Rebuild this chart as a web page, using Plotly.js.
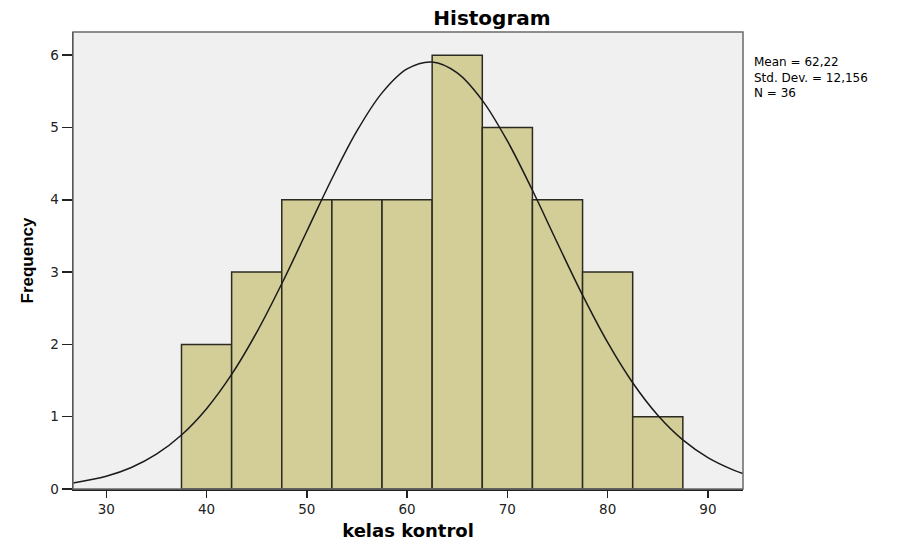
<!DOCTYPE html>
<html>
<head>
<meta charset="utf-8">
<script src="https://cdn.plot.ly/plotly-3.0.1.min.js"></script>
<style>html,body{margin:0;padding:0;background:#fff;}#chart{width:901px;height:541px;}</style>
</head>
<body>
<div id="chart"></div>
<script>
// Histogram bins (centres) and frequencies
const binCenters = [40, 45, 50, 55, 60, 65, 70, 75, 80, 85];
const frequencies = [2, 3, 4, 4, 4, 6, 5, 4, 3, 1];
// Normal curve
const curveX = [26.7, 30, 32.5, 35, 37.5, 40, 42.5, 45, 47.5, 50, 52.5, 55, 57.5, 60, 62.5, 65, 67.5, 70, 72.5, 75, 77.5, 80, 82.5, 85, 87.5, 90, 92.5, 93.5];
const curveY = [0.083, 0.176, 0.297, 0.481, 0.747, 1.111, 1.584, 2.166, 2.838, 3.564, 4.291, 4.952, 5.478, 5.809, 5.905, 5.755, 5.375, 4.813, 4.131, 3.399, 2.681, 2.027, 1.469, 1.020, 0.679, 0.434, 0.265, 0.215];
const xTicks = [30, 40, 50, 60, 70, 80, 90];
const yTicks = [0, 1, 2, 3, 4, 5, 6];
const statsLines = ["Mean = 62,22", "Std. Dev. = 12,156", "N = 36"];

const font = "'DejaVu Sans', Verdana, sans-serif";

const traces = [
  {
    type: 'bar', x: binCenters, y: frequencies, width: 5,
    marker: {color: '#d3cd98', line: {color: '#2b2b20', width: 1.5}},
    hoverinfo: 'x+y'
  },
  {
    type: 'scatter', mode: 'lines', x: curveX, y: curveY,
    line: {color: '#1a1a1a', width: 1.5, shape: 'spline', smoothing: 1.0},
    hoverinfo: 'skip'
  }
];

const layout = {
  width: 901, height: 541,
  margin: {l: 73, r: 158, t: 32, b: 52},
  paper_bgcolor: '#ffffff', plot_bgcolor: '#f0f0f0',
  showlegend: false, bargap: 0,
  title: {text: '<b>Histogram</b>', x: 0.546, xref: 'container', xanchor: 'center', y: 0.98, yanchor: 'top',
          font: {family: font, size: 20, color: '#000'}},
  xaxis: {
    range: [26.68, 93.5], tickvals: xTicks, ticktext: xTicks.map(String),
    ticks: 'outside', ticklen: 7, tickwidth: 1.5, tickcolor: '#222',
    showgrid: false, zeroline: false, showline: true, linecolor: '#222', linewidth: 1.5,
    tickfont: {family: font, size: 13.5, color: '#222'},
    title: {text: '<b>kelas kontrol</b>', font: {family: font, size: 18, color: '#000'}, standoff: 8}
  },
  yaxis: {
    range: [0, 6.32], tickvals: yTicks, ticktext: yTicks.map(String),
    ticks: 'outside', ticklen: 10, tickwidth: 1.5, tickcolor: '#222',
    showgrid: false, zeroline: false, showline: true, linecolor: '#222', linewidth: 1.5,
    tickfont: {family: font, size: 13.5, color: '#222'},
    title: {text: '<b>Frequency</b>', font: {family: "'Liberation Sans Narrow', 'Arial Narrow', Arial, sans-serif", size: 17, color: '#000'}, standoff: 12}
  },
  shapes: [
    {type: 'rect', xref: 'paper', yref: 'paper', x0: 0, x1: 1, y0: 0, y1: 1,
     line: {color: '#6a6a6a', width: 1.5}, fillcolor: 'rgba(0,0,0,0)', layer: 'above'}
  ],
  annotations: [
    {xref: 'paper', yref: 'paper', x: 1.013, y: 1 - 21 / 457, xanchor: 'left', yanchor: 'top',
     align: 'left', showarrow: false, text: statsLines.join('<br>'),
     font: {family: font, size: 12, color: '#000'}}
  ]
};

Plotly.newPlot('chart', traces, layout, {displayModeBar: false, staticPlot: true});
</script>
</body>
</html>
